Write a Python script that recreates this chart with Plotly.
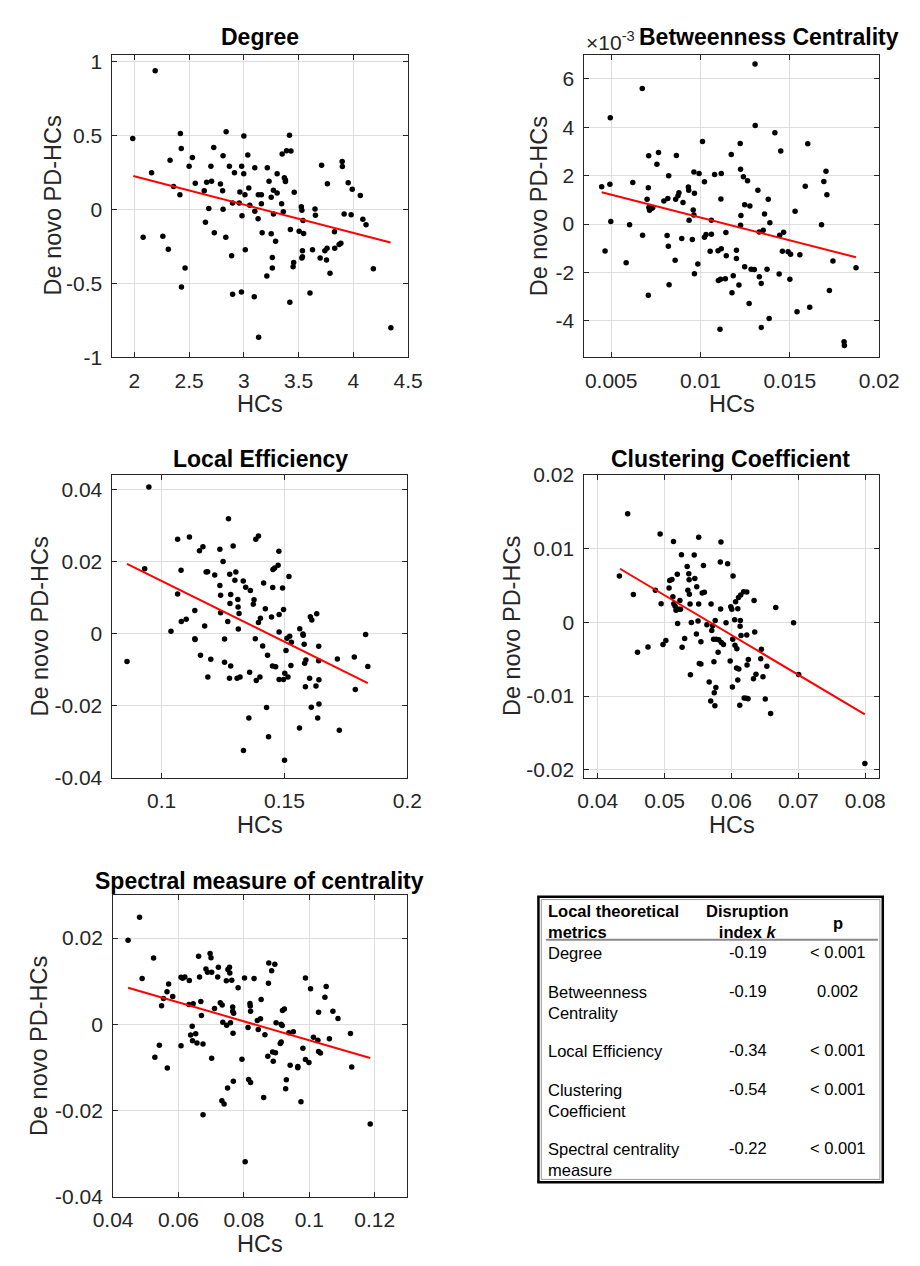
import plotly.graph_objects as go

W, H = 920, 1266
FONT = "Liberation Sans, Arial, Helvetica, sans-serif"

# ---------------- data ----------------
# Degree
deg_hc = [1.985, 2.08, 2.157, 2.19, 2.26, 2.31, 2.326, 2.358, 2.416, 2.42,
          2.428, 2.43, 2.463, 2.5, 2.53, 2.556, 2.638, 2.649, 2.66, 2.68,
          2.699, 2.705, 2.725, 2.73, 2.786, 2.806, 2.81, 2.81, 2.835, 2.838,
          2.868, 2.888, 2.897, 2.897, 2.914, 2.958, 2.964, 2.978, 2.98, 2.983,
          2.999, 3.0, 3.01, 3.013, 3.036, 3.045, 3.054, 3.095, 3.1, 3.1,
          3.13, 3.132, 3.135, 3.16, 3.16, 3.167, 3.21, 3.214, 3.23, 3.25,
          3.25, 3.26, 3.26, 3.27, 3.27, 3.29, 3.304, 3.304, 3.345, 3.35,
          3.36, 3.37, 3.38, 3.38, 3.39, 3.417, 3.42, 3.425, 3.43, 3.45,
          3.455, 3.46, 3.505, 3.525, 3.53, 3.53, 3.535, 3.535, 3.54, 3.546,
          3.604, 3.627, 3.65, 3.654, 3.697, 3.71, 3.74, 3.755, 3.76, 3.763,
          3.787, 3.828, 3.83, 3.87, 3.886, 3.898, 3.9, 3.916, 3.953, 3.98,
          3.99, 4.064, 4.087, 4.116, 4.183, 4.343]
deg_pd = [0.482, -0.188, 0.25, 0.94, -0.181, -0.268, 0.334, 0.157, 0.1, 0.515,
          0.414, -0.524, -0.396, 0.294, 0.352, 0.179, 0.128, -0.086, 0.186, 0.007,
          0.294, 0.192, 0.42, -0.157, 0.173, 0.128, 0.365, 0.002, -0.188, 0.527,
          0.294, -0.312, 0.044, -0.573, 0.25, 0.044, 0.12, -0.558, 0.294, -0.042,
          0.243, 0.498, 0.1, -0.272, 0.369, 0.146, 0.029, -0.59, -0.011, 0.283,
          -0.062, 0.1, -0.865, 0.1, 0.04, -0.157, -0.449, 0.283, 0.192, 0.084,
          -0.164, -0.396, -0.325, 0.131, -0.029, -0.215, 0.113, 0.243, 0.04, 0.376,
          -0.015, 0.215, 0.19, 0.2, 0.398, 0.504, -0.628, -0.135, 0.396, -0.387,
          -0.358, 0.117, -0.146, 0.02, -0.004, -0.327, -0.279, -0.32, -0.073, -0.162,
          -0.564, -0.272, 0.004, -0.038, -0.327, 0.3, -0.279, -0.341, -0.261, 0.175,
          -0.431, -0.15, -0.261, -0.237, -0.228, 0.325, 0.292, -0.029, 0.181, -0.035,
          0.137, 0.095, -0.066, -0.102, -0.4, -0.8]
deg_fit_x = [1.99, 4.34]
deg_fit_y = [0.228, -0.223]

# Betweenness Centrality (PD-HCs values in units of 1e-3)
betw_hc = [0.00447, 0.00466, 0.00493, 0.00495, 0.00498, 0.00584, 0.00603, 0.00621, 0.00674, 0.00676,
           0.00701, 0.00708, 0.00708, 0.0071, 0.00711, 0.00715, 0.00728, 0.00733, 0.00756, 0.00765,
           0.00795, 0.00813, 0.00817, 0.0082, 0.00822, 0.00824, 0.00858, 0.00861, 0.00865, 0.00874,
           0.00879, 0.00895, 0.00902, 0.00932, 0.00934, 0.00936, 0.00954, 0.00959, 0.00963, 0.00966,
           0.00966, 0.00963, 0.00985, 0.00992, 0.01011, 0.01022, 0.01022, 0.01031, 0.01054, 0.01061,
           0.01061, 0.01079, 0.01098, 0.011, 0.01109, 0.01112, 0.01114, 0.01116, 0.01116, 0.01139,
           0.01142, 0.01144, 0.01172, 0.01176, 0.01183, 0.01201, 0.01201, 0.01215, 0.01222, 0.01224,
           0.01224, 0.01226, 0.0124, 0.01247, 0.01247, 0.01263, 0.01272, 0.01276, 0.01283, 0.01301,
           0.01305, 0.01306, 0.01321, 0.01328, 0.01329, 0.0134, 0.0134, 0.01351, 0.01358, 0.01372,
           0.01379, 0.01384, 0.01388, 0.01416, 0.0144, 0.01443, 0.01449, 0.01458, 0.01465, 0.0149,
           0.015, 0.01504, 0.01529, 0.0154, 0.01556, 0.01586, 0.016, 0.01611, 0.01677, 0.0169,
           0.01702, 0.01707, 0.01721, 0.01741, 0.01803, 0.01805, 0.0187]
betw_pd_e3 = [1.545, -1.11, 1.64, 4.39, 0.108, -1.6, -0.03, 1.72, 5.6, -0.46,
              1.02, 1.5, -2.94, 2.82, 0.68, 0.57, 0.65, 0.68, 2.47, 2.95,
              0.95, -0.47, 1.06, -0.92, 2.0, -2.5, -1.49, 1.03, 2.83, 1.17,
              1.29, -0.6, 0.89, 1.53, 1.4, 0.16, -0.64, 0.58, 2.15, 1.27,
              -2.05, 0.37, -1.65, 2.09, 3.41, 1.75, -0.54, -0.43, -1.12, 0.16,
              -0.42, 2.05, -1.1, -2.33, -4.34, -2.28, 1.04, 2.09, -1.02, -2.26,
              -0.35, -1.31, 2.87, -2.83, -2.13, -1.08, -1.42, -2.51, 3.33, 2.26,
              -0.05, 0.35, 1.95, -1.76, 0.8, 1.79, -3.28, 0.75, -1.87, -1.88,
              6.61, 4.07, 1.4, -0.33, -2.17, -2.45, -4.27, -0.26, 0.42, -1.86,
              1.03, -3.9, 0.05, 3.77, -2.06, -0.46, 3.02, -1.12, -0.34, -1.14,
              -2.28, -1.25, 0.53, -3.62, -1.27, 1.56, 3.32, -3.43, -0.03, 1.76,
              2.18, 1.21, -2.74, -1.52, -4.86, -5.01, -1.8]
betw_fit_x = [0.00447, 0.0187]
betw_fit_y_e3 = [1.31, -1.37]

# Local Efficiency
le_hc = [0.0859, 0.0931, 0.0948, 0.1038, 0.1065, 0.1065, 0.1079, 0.108, 0.11, 0.1113,
         0.1135, 0.1135, 0.1136, 0.1154, 0.1158, 0.1168, 0.1175, 0.1181, 0.1187, 0.1188,
         0.12, 0.1216, 0.1237, 0.1237, 0.124, 0.124, 0.125, 0.1256, 0.1256, 0.1269,
         0.1272, 0.1277, 0.1278, 0.1281, 0.1281, 0.1276, 0.1291, 0.1298, 0.1302, 0.1307,
         0.131, 0.1311, 0.1312, 0.1315, 0.1319, 0.1332, 0.1333, 0.1342, 0.1355, 0.1358,
         0.1361, 0.1373, 0.1376, 0.1381, 0.1383, 0.1385, 0.1394, 0.1394, 0.14, 0.1402,
         0.1411, 0.1415, 0.1422, 0.1427, 0.1431, 0.1435, 0.1447, 0.1451, 0.1452, 0.1453,
         0.146, 0.1464, 0.1474, 0.1477, 0.1478, 0.1478, 0.1478, 0.1492, 0.1496, 0.1496,
         0.15, 0.1501, 0.1506, 0.151, 0.1514, 0.1518, 0.1521, 0.1526, 0.1528, 0.1561,
         0.1562, 0.1575, 0.1576, 0.158, 0.1582, 0.1585, 0.1587, 0.1602, 0.1605, 0.1609,
         0.1611, 0.1628, 0.1631, 0.1635, 0.1639, 0.1639, 0.164, 0.164, 0.1715, 0.1723,
         0.1784, 0.1788, 0.183, 0.1839]
le_pd = [-0.0077, 0.018, 0.0407, 0.0007, 0.0262, 0.011, 0.0176, 0.0034, 0.004, 0.0268,
         0.0064, -0.0014, -0.0016, 0.023, -0.006, 0.0241, 0.0021, 0.0171, 0.0172, -0.012,
         -0.0071, 0.0163, 0.0234, 0.0134, 0.0107, 0.0058, 0.02, -0.0015, -0.0079, 0.0034,
         0.0319, 0.0165, 0.0084, 0.0109, -0.009, -0.0124, 0.0243, 0.0148, 0.0171, -0.0124,
         0.0095, 0.0074, 0.0013, 0.0056, -0.012, 0.0146, -0.0324, 0.0129, -0.0234, -0.0107,
         0.012, 0.0082, 0.0094, -0.0014, 0.0262, -0.013, 0.0271, 0.0031, -0.012, 0.0043,
         -0.0034, 0.0141, 0.0069, -0.0205, -0.006, -0.0286, 0.0046, -0.009, 0.0128, 0.0178,
         0.0182, -0.0092, 0.019, 0.0229, -0.0127, 0.0053, 0.0005, 0.0127, 0.0067, -0.0127,
         -0.0351, -0.011, -0.0047, -0.0013, -0.012, 0.0159, -0.0007, -0.0088, -0.0024, -0.0262,
         0.0014, -0.0001, -0.0004, -0.0029, -0.0082, -0.0147, -0.0073, -0.0124, 0.0047, -0.0204,
         0.0038, -0.0145, 0.0055, -0.0234, -0.0035, -0.0075, -0.0128, -0.0195, -0.007, -0.0268,
         -0.0065, -0.0155, -0.0002, -0.0091]
le_fit_x = [0.0859, 0.1839]
le_fit_y = [0.0194, -0.0137]

# Clustering Coefficient
cc_hc = [0.04324, 0.04448, 0.04533, 0.04595, 0.04752, 0.04862, 0.04933, 0.04948, 0.04976, 0.05019,
         0.05067, 0.05076, 0.0511, 0.05133, 0.05124, 0.05138, 0.05157, 0.05171, 0.0519, 0.05195,
         0.0521, 0.05229, 0.05238, 0.05252, 0.05262, 0.053, 0.05338, 0.05348, 0.05362, 0.05367,
         0.05371, 0.05381, 0.05386, 0.054, 0.05443, 0.05452, 0.05476, 0.05481, 0.055, 0.0551,
         0.0551, 0.05519, 0.05543, 0.05543, 0.05562, 0.05581, 0.05595, 0.05633, 0.05667, 0.0569,
         0.05695, 0.05705, 0.05719, 0.05733, 0.05738, 0.05743, 0.05752, 0.05757, 0.05767, 0.05771,
         0.058, 0.0581, 0.05833, 0.05838, 0.05843, 0.05848, 0.05881, 0.05919, 0.05943, 0.05981,
         0.0599, 0.06005, 0.06014, 0.06019, 0.06024, 0.06048, 0.06052, 0.06062, 0.06076, 0.06081,
         0.06095, 0.06095, 0.06105, 0.0611, 0.06124, 0.06129, 0.06133, 0.06138, 0.06143, 0.06181,
         0.0619, 0.06224, 0.06229, 0.06229, 0.06233, 0.06248, 0.06252, 0.06329, 0.06338, 0.06348,
         0.06367, 0.06438, 0.06448, 0.06471, 0.06505, 0.06529, 0.06586, 0.06662, 0.06929, 0.07005,
         0.07995]
cc_pd = [0.00631, 0.01476, 0.00378, -0.00404, -0.00333, 0.00436, 0.012, 0.00253, -0.00298, -0.00244,
         0.00467, 0.00569, 0.00582, 0.01098, 0.00347, 0.00253, 0.00218, 0.00164, 0.00653, -0.00013,
         0.00178, 0.00298, 0.00178, 0.0092, -0.00338, -0.00218, 0.0076, 0.00436, 0.00662, 0.00578,
         0.00382, 0.00249, -0.00711, 0.0, 0.00916, 0.00596, -0.00156, 0.00484, 0.00018, 0.01156,
         0.00249, -0.00556, -0.00262, -0.00564, 0.004, 0.00773, 0.00409, -0.00031, -0.00809, -0.01067,
         0.00249, -0.00111, -0.00044, -0.00227, -0.00533, -0.00956, -0.01133, 0.00027, -0.00884, -0.00227,
         -0.00404, -0.00236, 0.00822, 0.00182, 0.01093, -0.00271, -0.00298, -0.00004, 0.00796, -0.00524,
         0.00213, 0.00178, -0.00876, -0.00227, 0.00631, 0.00036, -0.00311, 0.0028, -0.00618, -0.00356,
         0.00187, -0.00782, 0.00338, -0.00631, -0.01124, -0.00053, 0.00027, 0.00373, -0.00178, 0.00418,
         -0.01027, -0.01031, 0.00413, -0.00169, -0.00578, -0.01036, -0.00502, -0.00764, 0.00298, -0.00129,
         -0.00702, -0.00493, -0.00364, -0.00738, -0.0104, -0.00596, -0.01236, 0.00204, -0.00004, -0.00707,
         -0.01916]
cc_fit_x = [0.04333, 0.07995]
cc_fit_y = [0.00729, -0.01249]

# Spectral measure of centrality
sp_hc = [0.04459, 0.0481, 0.04888, 0.05239, 0.05278, 0.05415, 0.05483, 0.05541, 0.05649, 0.05659,
         0.05698, 0.05824, 0.06078, 0.06078, 0.06127, 0.06195, 0.06322, 0.06332, 0.06371, 0.0642,
         0.06429, 0.06449, 0.06527, 0.06566, 0.06615, 0.06644, 0.06683, 0.06702, 0.06751, 0.06751,
         0.0684, 0.06888, 0.06966, 0.06995, 0.07015, 0.07015, 0.07102, 0.072, 0.0722, 0.07278,
         0.07337, 0.07327, 0.07395, 0.07356, 0.07463, 0.07473, 0.07502, 0.07512, 0.0756, 0.0757,
         0.0759, 0.07629, 0.07658, 0.07658, 0.07668, 0.07678, 0.07688, 0.07824, 0.07941, 0.0802,
         0.08039, 0.08127, 0.08146, 0.08185, 0.08195, 0.08205, 0.08205, 0.08312, 0.0841, 0.08439,
         0.08507, 0.08527, 0.08605, 0.08644, 0.08732, 0.08751, 0.08761, 0.08849, 0.08878, 0.08898,
         0.08946, 0.08966, 0.08985, 0.09112, 0.09141, 0.09141, 0.09171, 0.0918, 0.09239, 0.09278,
         0.09298, 0.09376, 0.09415, 0.09512, 0.09649, 0.09649, 0.09746, 0.09805, 0.09883, 0.09883,
         0.0999, 0.10039, 0.10127, 0.10263, 0.10283, 0.10283, 0.10341, 0.10478, 0.10517, 0.10615,
         0.10722, 0.10878, 0.11259, 0.11298, 0.11863]
sp_pd = [0.01947, 0.02485, 0.01061, 0.01538, -0.00765, -0.00485, 0.00432, 0.00598, 0.00758, -0.01015,
         0.00932, 0.00644, -0.005, 0.01091, 0.01068, 0.01098, 0.00462, 0.01015, -0.0025, -0.00045,
         -0.00379, 0.00477, -0.0022, -0.00432, 0.01576, 0.01098, 0.0053, 0.00205, -0.00455, -0.02098,
         0.0128, 0.01205, 0.01644, 0.01545, 0.01205, -0.00788, 0.00364, 0.01098, 0.01326, 0.005,
         0.00447, -0.01773, -0.01848, 0.00045, 0.01008, -0.00023, -0.01477, 0.01273, 0.01326, 0.01189,
         0.00038, 0.01023, 0.00402, 0.00303, -0.00205, -0.01318, 0.00258, 0.00848, -0.00811, 0.01076,
         -0.0319, -0.00076, -0.0128, 0.00485, 0.00424, -0.01348, 0.00303, 0.01061, 0.00091, -0.00121,
         0.00129, 0.00576, -0.01697, -0.00242, -0.00742, 0.00955, 0.01424, 0.01242, -0.00644, -0.00856,
         0.01394, -0.00659, 0.00038, -0.00447, -0.00409, 0.0, -0.0003, 0.00318, 0.00356, -0.01492,
         -0.01288, -0.00197, -0.00947, -0.00174, -0.00977, -0.01008, -0.01795, -0.00553, 0.01076, -0.00818,
         -0.00886, 0.00826, -0.00303, -0.00371, 0.0028, -0.00629, -0.00667, 0.00629, 0.00879, -0.00333,
         0.00303, 0.00136, -0.00212, -0.00992, -0.02311]
sp_fit_x = [0.04459, 0.11863]
sp_fit_y = [0.00848, -0.0078]

# tick values / labels
deg_xticks = [2, 2.5, 3, 3.5, 4, 4.5]
deg_xlabels = ["2", "2.5", "3", "3.5", "4", "4.5"]
deg_yticks = [-1, -0.5, 0, 0.5, 1]
deg_ylabels = ["-1", "-0.5", "0", "0.5", "1"]
betw_xticks = [0.005, 0.01, 0.015, 0.02]
betw_xlabels = ["0.005", "0.01", "0.015", "0.02"]
betw_yticks = [-4, -2, 0, 2, 4, 6]
betw_ylabels = ["-4", "-2", "0", "2", "4", "6"]
le_xticks = [0.1, 0.15, 0.2]
le_xlabels = ["0.1", "0.15", "0.2"]
le_yticks = [-0.04, -0.02, 0, 0.02, 0.04]
le_ylabels = ["-0.04", "-0.02", "0", "0.02", "0.04"]
cc_xticks = [0.04, 0.05, 0.06, 0.07, 0.08]
cc_xlabels = ["0.04", "0.05", "0.06", "0.07", "0.08"]
cc_yticks = [-0.02, -0.01, 0, 0.01, 0.02]
cc_ylabels = ["-0.02", "-0.01", "0", "0.01", "0.02"]
sp_xticks = [0.04, 0.06, 0.08, 0.1, 0.12]
sp_xlabels = ["0.04", "0.06", "0.08", "0.1", "0.12"]
sp_yticks = [-0.04, -0.02, 0, 0.02]
sp_ylabels = ["-0.04", "-0.02", "0", "0.02"]

# table
table_header = ["<b>Local theoretical</b><br><b>metrics</b>",
                "<b>Disruption</b><br><b>index <i>k</i></b>",
                "<b>p</b>"]
table_metrics = ["Degree", "Betweenness<br>Centrality", "Local Efficiency",
                 "Clustering<br>Coefficient", "Spectral centrality<br>measure"]
table_k = ["-0.19", "-0.19", "-0.34", "-0.54", "-0.22"]
table_p = ["&lt; 0.001", "0.002", "&lt; 0.001", "&lt; 0.001", "&lt; 0.001"]

# ---------------- layout helpers ----------------
def fx(px):
    return px / W

def fy(py):
    return 1 - py / H

panels = [
    dict(title="Degree", x=deg_hc, y=deg_pd, lx=deg_fit_x, ly=deg_fit_y,
         box=(96.7, 405.7, 43.3, 351.7), xr=[1.8, 4.5], yr=[-1, 1.05],
         xt=(deg_xticks, deg_xlabels), yt=(deg_yticks, deg_ylabels),
         tx=251, ty=25, ylx=34),
    dict(title="Betweenness Centrality", x=betw_hc, y=betw_pd_e3, lx=betw_fit_x, ly=betw_fit_y_e3,
         box=(590, 898.3, 43.3, 351.7), xr=[0.0035, 0.02], yr=[-5.5, 7],
         xt=(betw_xticks, betw_xlabels), yt=(betw_yticks, betw_ylabels),
         tx=783, ty=25, ylx=543),
    dict(title="Local Efficiency", x=le_hc, y=le_pd, lx=le_fit_x, ly=le_fit_y,
         box=(96.7, 405, 471.7, 780), xr=[0.08, 0.2], yr=[-0.04, 0.044],
         xt=(le_xticks, le_xlabels), yt=(le_yticks, le_ylabels),
         tx=251, ty=455, ylx=21),
    dict(title="Clustering Coefficient", x=cc_hc, y=cc_pd, lx=cc_fit_x, ly=cc_fit_y,
         box=(590, 898.3, 471.7, 780), xr=[0.038, 0.0821], yr=[-0.0211, 0.02],
         xt=(cc_xticks, cc_xlabels), yt=(cc_yticks, cc_ylabels),
         tx=743, ty=455, ylx=515),
    dict(title="Spectral measure of centrality", x=sp_hc, y=sp_pd, lx=sp_fit_x, ly=sp_fit_y,
         box=(97.3, 405, 899.3, 1206.7), xr=[0.04, 0.13], yr=[-0.04, 0.03],
         xt=(sp_xticks, sp_xlabels), yt=(sp_yticks, sp_ylabels),
         tx=250, ty=885, ylx=20),
]

fig = go.Figure()
annotations = []
shapes = []
AX = "#262626"
TICK_FS = 21
LABEL_FS = 23.5
TITLE_FS = 23

for i, p in enumerate(panels, start=1):
    sfx = "" if i == 1 else str(i)
    fig.add_trace(go.Scatter(x=p["x"], y=p["y"], mode="markers",
                             marker=dict(color="black", size=5.5),
                             xaxis="x" + sfx, yaxis="y" + sfx, showlegend=False))
    fig.add_trace(go.Scatter(x=p["lx"], y=p["ly"], mode="lines",
                             line=dict(color="#ff0000", width=2),
                             xaxis="x" + sfx, yaxis="y" + sfx, showlegend=False))
    l, r, t, b = p["box"]
    common = dict(showline=True, linecolor=AX, linewidth=1, mirror="allticks",
                  ticks="inside", ticklen=5, tickcolor=AX, showgrid=True,
                  gridcolor="#dedede", gridwidth=1, zeroline=False,
                  tickfont=dict(family=FONT, size=TICK_FS, color=AX), tickmode="array")
    fig.update_layout(**{
        "xaxis" + sfx: dict(domain=[fx(l), fx(r)], range=p["xr"], anchor="y" + sfx,
                            tickvals=p["xt"][0], ticktext=p["xt"][1],
                            ticklabelstandoff=4, **common),
        "yaxis" + sfx: dict(domain=[fy(b), fy(t)], range=p["yr"], anchor="x" + sfx,
                            tickvals=p["yt"][0], ticktext=p["yt"][1],
                            ticklabelstandoff=5, **common),
    })
    annotations.append(dict(text="<b>" + p["title"] + "</b>", x=fx(p["tx"]), y=fy(p["ty"]),
                            xref="paper", yref="paper", showarrow=False,
                            xanchor="center", yanchor="middle",
                            font=dict(family=FONT, size=TITLE_FS, color="black")))
    annotations.append(dict(text="HCs", x=fx((l + r) / 2), y=fy(b + 48),
                            xref="paper", yref="paper", showarrow=False,
                            xanchor="center", yanchor="middle",
                            font=dict(family=FONT, size=LABEL_FS, color=AX)))
    annotations.append(dict(text="De novo PD-HCs", x=fx(p["ylx"]), y=fy((t + b) / 2),
                            xref="paper", yref="paper", showarrow=False, textangle=-90,
                            xanchor="center", yanchor="middle",
                            font=dict(family=FONT, size=LABEL_FS, color=AX)))

# exponent label for betweenness
annotations.append(dict(text="×10<sup>-3</sup>", x=fx(590), y=fy(30),
                        xref="paper", yref="paper", showarrow=False,
                        xanchor="left", yanchor="middle",
                        font=dict(family=FONT, size=TICK_FS, color=AX)))

# ---------------- table ----------------
TL, TR, TT, TB = 542, 902, 901, 1192
shapes.append(dict(type="rect", xref="paper", yref="paper",
                   x0=fx(TL), x1=fx(TR), y0=fy(TB), y1=fy(TT),
                   line=dict(color="black", width=2.5)))
shapes.append(dict(type="rect", xref="paper", yref="paper",
                   x0=fx(TL + 3), x1=fx(TR - 3), y0=fy(TB - 3), y1=fy(TT + 3),
                   line=dict(color="#9a9a9a", width=1)))
shapes.append(dict(type="line", xref="paper", yref="paper",
                   x0=fx(550), x1=fx(897), y0=fy(945), y1=fy(945),
                   line=dict(color="#8a8a8a", width=2)))

TFS = 16.5
col_x = [550, 761, 855]
annotations.append(dict(text=table_header[0], x=fx(col_x[0]), y=fy(926), xref="paper", yref="paper",
                        showarrow=False, xanchor="left", yanchor="middle", align="left",
                        font=dict(family=FONT, size=TFS, color="black")))
annotations.append(dict(text=table_header[1], x=fx(col_x[1]), y=fy(926), xref="paper", yref="paper",
                        showarrow=False, xanchor="center", yanchor="middle", align="center",
                        font=dict(family=FONT, size=TFS, color="black")))
annotations.append(dict(text=table_header[2], x=fx(col_x[2]), y=fy(928), xref="paper", yref="paper",
                        showarrow=False, xanchor="center", yanchor="middle",
                        font=dict(family=FONT, size=TFS, color="black")))

row_top = [957, 997, 1057, 1097, 1157]
for ry, m, k, pv in zip(row_top, table_metrics, table_k, table_p):
    annotations.append(dict(text=m, x=fx(col_x[0]), y=fy(ry - 10), xref="paper", yref="paper",
                            showarrow=False, xanchor="left", yanchor="top", align="left",
                            font=dict(family=FONT, size=TFS, color="black")))
    annotations.append(dict(text=k, x=fx(col_x[1]), y=fy(ry), xref="paper", yref="paper",
                            showarrow=False, xanchor="center", yanchor="middle",
                            font=dict(family=FONT, size=TFS, color="black")))
    annotations.append(dict(text=pv, x=fx(col_x[2]), y=fy(ry), xref="paper", yref="paper",
                            showarrow=False, xanchor="center", yanchor="middle",
                            font=dict(family=FONT, size=TFS, color="black")))

fig.update_layout(width=W, height=H, margin=dict(l=0, r=0, t=0, b=0),
                  paper_bgcolor="white", plot_bgcolor="white",
                  font=dict(family=FONT, color=AX),
                  annotations=annotations, shapes=shapes, showlegend=False)

fig.write_html("out.html")
